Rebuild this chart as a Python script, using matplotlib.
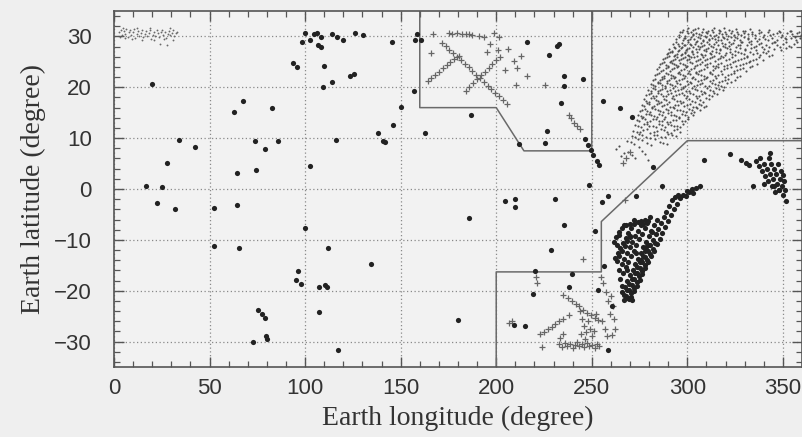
import matplotlib
matplotlib.use("Agg")
import matplotlib.pyplot as plt
from matplotlib.ticker import MultipleLocator

# ---------------- data (longitude, latitude in degrees) ----------------
# isolated and clustered filled events
dot_lon = [20.0, 34.2, 42.5, 27.8, 17.0, 25.2, 22.6, 32.0,
           63.0, 67.4, 82.7, 74.0, 85.6, 79.0, 64.3, 74.5,
           52.3, 64.3, 52.1, 65.5,
           75.4, 77.3, 79.0, 79.5, 72.6, 79.9,
           93.8, 96.0, 99.8, 98.6, 102.4, 104.7, 106.3, 108.5, 106.8, 108.2, 114.1, 116.7, 120.0, 126.0, 130.1, 145.5,
           110.1, 123.3, 125.4, 113.9, 109.2,
           145.8, 138.4, 141.0, 141.6, 116.3, 102.4,
           100.2, 112.2, 134.4, 96.4, 95.3, 97.9, 107.3, 110.3, 111.7, 107.3, 117.0,
           158.3, 157.7, 160.6, 157.1, 150.2, 162.9, 186.7,
           216.1, 227.4, 232.0, 233.0, 235.3, 245.2, 235.6, 233.9, 226.6, 225.4, 211.8,
           246.6, 247.9, 249.5, 250.9, 252.6, 254.0,
           255.7, 264.8, 270.8, 282.1, 287.0, 308.7, 322.2,
           248.8, 258.7, 255.5, 230.9, 209.7, 204.5, 209.8, 273.3,
           185.8, 180.2,
           220.5, 219.1, 209.2, 214.9, 237.9, 239.6, 228.6, 235.6, 251.8, 256.4, 253.5, 258.3, 260.4]
dot_lat = [20.7, 9.7, 8.3, 5.1, 0.5, 0.3, -2.75, -4.0,
           15.2, 17.4, 16.0, 9.4, 9.5, 7.9, 3.1, 3.7,
           -3.7, -3.2, -11.2, -11.6,
           -23.8, -24.6, -25.3, -29.0, -30.0, -29.4,
           24.8, 24.0, 30.7, 29.0, 29.2, 30.4, 30.7, 29.8, 28.4, 27.9, 30.4, 29.8, 29.2, 30.6, 30.2, 29.0,
           24.1, 22.2, 22.6, 21.0, 20.0,
           12.5, 11.0, 9.5, 9.3, 9.6, 4.5,
           -7.6, -11.6, -14.7, -16.2, -17.9, -18.7, -19.2, -18.9, -19.3, -24.1, -31.6,
           30.5, 29.2, 29.2, 19.2, 16.1, 11.0, 14.6,
           28.9, 26.3, 28.1, 28.6, 22.3, 21.6, 20.2, 17.0, 11.5, 9.0, 8.9,
           9.8, 8.7, 7.7, 6.6, 5.6, 4.7,
           17.4, 15.9, 14.2, 4.4, 0.5, 5.7, 6.8,
           0.7, -1.4, -2.5, -2.0, -1.9, -2.3, -3.5, -1.4,
           -5.8, -25.8,
           -16.2, -20.6, -26.7, -27.0, -19.3, -16.7, -11.9, -7.0, -8.3, -15.2, -19.9, -31.6, -23.1]

# dense streaks of filled events south of the equator
band_lon = [270.5, 272.0, 273.5, 275.0, 276.5, 278.0, 279.5, 281.0, 282.5, 284.0, 285.5, 287.0, 288.5,
            290.0, 291.5, 293.0, 294.5, 296.0,
            268.0, 269.4, 270.8, 272.2, 273.6, 275.0, 276.4, 277.8, 279.2, 280.6, 282.0, 283.4, 284.8,
            286.2, 287.6, 289.0, 290.4,
            265.8, 267.2, 268.6, 270.0, 271.4, 272.8, 274.2, 275.6, 277.0, 278.4, 279.8, 281.2, 282.6, 284.0,
            265.0, 266.4, 267.8, 269.2, 270.6, 272.0, 273.4, 274.8, 276.2, 277.6, 279.0, 280.4,
            262.2, 263.6, 265.0, 266.4, 267.8, 269.2, 270.6, 272.0,
            261.5, 262.9, 264.3, 265.7, 267.1,
            268.0, 270.0, 272.0, 274.0, 276.0, 278.0, 279.5,
            292.0, 293.5, 295.0, 296.0, 297.8, 299.5, 301.0, 303.0, 304.7, 306.5, 302.5, 300.0,
            267.0, 269.0, 271.0, 266.0, 268.5, 263.0, 264.5, 270.0, 273.0, 275.5, 278.5, 281.5,
            269.3, 270.7, 272.1, 273.5, 274.9, 276.3, 277.7, 279.1, 280.5, 281.9, 283.3,
            266.9, 268.3, 269.7, 271.1, 272.5, 273.9, 275.3, 276.7, 278.1, 279.5,
            264.3, 265.7, 267.1, 268.5, 269.9, 271.3, 272.7, 274.1, 275.5, 276.9,
            263.0, 264.4, 265.8, 267.2, 268.6, 270.0]
band_lat = [-21.2, -20.1, -19.0, -17.8, -16.7, -15.5, -14.4, -13.2, -12.1, -10.9, -9.8, -8.6, -7.5,
            -6.3, -5.2, -4.0, -2.9, -1.8,
            -21.0, -19.9, -18.8, -17.7, -16.6, -15.5, -14.4, -13.3, -12.2, -11.1, -10.0, -8.9, -7.8,
            -6.7, -5.6, -4.5, -3.4,
            -20.3, -19.2, -18.1, -17.0, -15.9, -14.8, -13.7, -12.6, -11.5, -10.4, -9.3, -8.2, -7.1, -6.0,
            -17.6, -16.5, -15.4, -14.3, -13.2, -12.1, -11.0, -9.9, -8.8, -7.7, -6.6, -5.5,
            -13.6, -12.6, -11.6, -10.6, -9.6, -8.6, -7.6, -6.8,
            -10.5, -9.5, -8.5, -7.6, -7.0,
            -7.0, -6.8, -6.0, -6.4, -6.3, -6.0, -6.2,
            -2.2, -1.6, -1.2, -1.6, -1.1, -1.4, -0.6, -0.8, 0.1, 0.5, 0.0, -0.3,
            -21.8, -21.5, -21.9, -19.0, -16.0, -11.0, -9.0, -9.5, -12.5, -14.0, -11.5, -8.5,
            -21.6, -20.5, -19.4, -18.3, -17.2, -16.1, -15.0, -13.9, -12.8, -11.7, -10.6,
            -20.9, -19.8, -18.7, -17.6, -16.5, -15.4, -14.3, -13.2, -12.1, -11.0,
            -15.9, -14.8, -13.7, -12.6, -11.5, -10.4, -9.3, -8.2, -7.1, -6.9,
            -14.2, -13.2, -12.2, -11.2, -10.2, -9.2]

# filled events near the right edge
east_lon = [328.1, 330.7, 332.5, 334.2, 343.4, 336.0, 337.5, 338.0, 339.0, 340.0, 340.5, 341.5, 342.0,
            342.5, 343.0, 344.0, 344.5, 345.0, 345.5, 346.0, 346.5, 347.0, 347.5, 348.0, 348.5, 349.0,
            349.5, 349.8, 350.5, 351.0, 351.6, 350.0, 340.3, 345.5, 348.1]
east_lat = [5.8, 5.1, 4.8, 0.5, 7.1, 5.5, 4.5, 6.0, 3.5, 5.0, 2.5, 4.0, 1.5,
            6.0, 3.0, 5.0, 0.5, 2.0, 4.0, -0.5, 3.0, 1.0, 5.0, -0.2, 2.0, 3.5,
            0.5, -1.1, 1.5, -0.2, -2.4, 2.8, 0.9, 0.5, -0.1]

# cross-shaped events
plus_lon = [175.2, 177.0, 179.7, 182.3, 184.0, 185.8, 187.5, 191.0, 193.6, 198.8, 201.5, 167.0,
            171.5, 173.6, 175.5, 177.5, 179.5, 181.5, 183.5, 185.5, 187.5, 189.5, 191.5, 193.5,
            195.5, 197.5, 199.5, 201.5, 203.5, 205.5,
            164.1, 166.0, 168.0, 170.0, 172.0, 174.0, 176.0, 178.0, 180.6,
            184.1, 186.0, 188.0, 190.0, 192.0, 194.0, 196.0, 198.0, 200.0, 201.8,
            165.8, 210.1, 213.2, 216.1, 225.7, 209.5, 211.0, 201.0, 204.5, 197.0, 195.0, 206.0,
            237.9, 239.3, 240.8, 242.4, 243.9,
            270.0, 267.8, 266.1, 267.4, 245.3, 254.9, 255.8,
            220.8, 221.3, 206.6, 208.3,
            223.1, 225.0, 227.0, 229.0, 231.0, 233.0, 235.0, 237.9, 223.9,
            235.2, 237.5, 239.5, 241.5, 243.5, 245.5, 247.5, 249.5, 251.5, 253.5, 255.5,
            233.0, 234.5, 236.0, 237.0, 238.5, 240.0, 241.0, 242.5, 243.5, 245.0, 246.0, 247.5,
            248.5, 250.0, 251.5, 252.5, 254.0, 233.5, 235.0,
            244.0, 245.0, 246.0, 247.0, 248.0, 249.0, 250.0, 246.5, 251.0, 252.0, 244.5,
            257.5, 258.5, 260.0, 261.0, 259.5, 261.5, 262.0, 260.5, 257.0, 258.0]
plus_lat = [30.6, 30.5, 30.6, 30.4, 30.5, 30.4, 30.2, 30.0, 29.9, 30.6, 29.8, 30.4,
            28.8, 28.1, 27.4, 26.7, 26.0, 25.3, 24.6, 23.9, 23.2, 22.5, 21.8, 21.1,
            20.3, 19.6, 18.9, 18.2, 17.5, 16.8,
            21.2, 21.8, 22.4, 23.1, 23.8, 24.4, 25.0, 25.6, 26.2,
            19.2, 20.0, 20.8, 21.6, 22.4, 23.1, 23.8, 24.6, 25.3, 26.0,
            26.7, 20.5, 26.2, 22.2, 20.5, 25.1, 23.8, 27.4, 23.4, 28.5, 27.0, 27.5,
            14.6, 13.9, 13.0, 12.3, 11.7,
            7.2, 6.1, 5.2, -2.1, -13.7, -17.4, -18.4,
            -17.3, -18.5, -26.4, -26.0,
            -28.6, -28.1, -27.6, -27.1, -26.6, -26.0, -25.5, -24.7, -31.1,
            -20.8, -21.4, -22.0, -22.6, -23.1, -23.7, -24.3, -24.8, -25.3, -25.7, -26.0,
            -30.5, -31.0, -30.2, -30.8, -30.4, -31.2, -30.6, -30.1, -30.9, -30.5, -31.1, -30.3,
            -30.8, -30.6, -31.2, -30.4, -30.9, -29.2, -28.5,
            -24.0, -25.5, -27.0, -28.2, -26.0, -27.5, -29.0, -29.5, -28.0, -24.5, -28.5,
            -20.3, -22.0, -21.0, -23.0, -24.5, -25.5, -27.5, -28.7, -27.5, -29.0]

# faint small events, western patch near 30N
west_cloud_lon = [2.5, 3.5, 4.2, 5.0, 5.8, 6.5, 7.1, 7.8, 8.5, 9.0, 9.8, 10.5, 11.2, 11.9, 12.6, 13.3,
                  14.0, 14.8, 15.4, 16.1, 16.9, 17.5, 18.2, 18.9, 19.6, 20.3, 21.0, 21.7, 22.4, 23.1,
                  23.8, 24.5, 25.2, 25.9, 26.6, 27.3, 28.0, 28.7, 29.4, 30.1, 30.8, 31.5, 32.2, 33.0,
                  3.0, 6.0, 9.5, 14.5, 20.8, 26.0, 31.0, 24.0, 27.5, 4.5, 12.0, 19.0, 29.5]
west_cloud_lat = [30.8, 31.3, 30.2, 31.0, 30.5, 31.5, 29.9, 30.8, 31.2, 30.3, 30.9, 31.4, 29.6, 30.5, 31.1, 30.1,
                  30.7, 31.3, 29.8, 30.4, 31.0, 30.0, 30.7, 31.2, 29.5, 30.3, 30.9, 30.1, 31.3, 30.6,
                  29.9, 30.8, 31.2, 30.3, 30.9, 29.6, 30.4, 31.0, 30.2, 30.7, 31.2, 30.0, 30.6, 30.9,
                  29.8, 29.6, 29.4, 29.3, 29.2, 29.4, 29.3, 28.6, 28.4, 31.6, 31.7, 31.6, 31.6]

# faint small events, eastern cloud ("lon lat" pairs)
east_cloud = """
297.5 31.3, 300.2 31.6, 303.1 31.2, 305.8 31.7, 308.4 31.4, 311.0 31.1, 313.7 31.6, 316.5 31.3, 319.2 31.7,
322.0 31.2, 325.3 31.5, 328.9 31.1, 333.0 31.4, 337.6 31.2, 342.5 31.3, 348.0 31.1, 354.0 31.0,
295.4 30.3, 297.1 30.8, 298.9 30.1, 300.3 30.6, 301.8 30.9, 303.2 30.2, 304.7 30.7, 306.1 30.4, 307.6 30.9,
309.0 30.1, 310.5 30.6, 312.1 30.3, 313.6 30.8, 315.0 30.2, 316.6 30.7, 318.1 30.4, 319.7 30.9, 321.2 30.1,
322.8 30.6, 324.5 30.3, 326.2 30.8, 328.0 30.2, 329.8 30.6, 331.7 30.4, 333.6 30.9, 335.6 30.2, 337.7 30.6,
339.9 30.3, 342.2 30.8, 344.6 30.4, 347.0 30.7, 349.5 30.2, 352.0 30.6, 354.6 30.4, 357.2 30.7, 359.5 30.3,
294.2 29.4, 295.9 29.8, 297.5 29.2, 299.0 29.7, 300.6 29.3, 302.0 29.9, 303.5 29.5, 305.0 29.1, 306.5 29.6,
308.1 29.3, 309.7 29.8, 311.3 29.2, 312.8 29.6, 314.4 29.4, 316.0 29.9, 317.7 29.2, 319.3 29.7, 321.0 29.4,
322.6 29.8, 324.3 29.2, 326.0 29.6, 327.8 29.3, 329.6 29.9, 331.5 29.5, 333.5 29.1, 335.5 29.7, 337.6 29.4,
339.8 29.8, 342.0 29.2, 344.3 29.6, 346.7 29.3, 349.1 29.8, 351.6 29.4, 354.2 29.7, 356.8 29.2, 359.2 29.6,
292.3 28.5, 294.0 28.9, 295.6 28.2, 297.3 28.7, 298.9 28.4, 300.5 28.9, 302.1 28.3, 303.8 28.6, 305.4 28.1,
307.1 28.8, 308.8 28.4, 310.5 28.9, 312.3 28.2, 314.1 28.6, 316.0 28.3, 317.9 28.8, 319.9 28.5, 322.0 28.1,
324.1 28.7, 326.3 28.4, 328.6 28.9, 331.0 28.3, 333.5 28.6, 336.0 28.2, 338.6 28.8, 341.3 28.4, 344.1 28.7,
347.0 28.3, 350.0 28.6, 353.0 28.2, 356.0 28.5,
290.4 27.6, 292.1 27.2, 293.8 27.8, 295.5 27.4, 297.3 27.9, 299.1 27.3, 300.9 27.7, 302.7 27.1, 304.6 27.5,
306.5 27.9, 308.5 27.4, 310.6 27.8, 312.7 27.2, 314.9 27.6, 317.2 27.3, 319.6 27.9, 322.1 27.5, 324.7 27.1,
327.4 27.7, 330.2 27.3, 333.1 27.8, 336.1 27.4, 339.2 27.9, 342.4 27.2, 345.6 27.6, 348.8 27.3, 351.5 27.8,
289.2 26.5, 291.0 26.9, 292.8 26.2, 294.7 26.6, 296.6 26.3, 298.6 26.8, 300.6 26.4, 302.7 26.9, 304.8 26.1,
307.0 26.6, 309.3 26.3, 311.7 26.8, 314.2 26.2, 316.8 26.7, 319.5 26.4, 322.3 26.9, 325.2 26.3, 328.2 26.7,
331.3 26.2, 334.5 26.6, 337.8 26.3, 341.1 26.8, 344.3 26.4,
287.4 25.5, 289.3 25.9, 291.3 25.2, 293.3 25.6, 295.4 25.3, 297.5 25.8, 299.7 25.4, 302.0 25.9, 304.3 25.1,
306.7 25.6, 309.2 25.3, 311.8 25.8, 314.5 25.2, 317.3 25.7, 320.2 25.4, 323.2 25.9, 326.3 25.3, 329.5 25.7,
332.8 25.2, 336.1 25.6, 339.4 25.3,
285.6 24.5, 287.6 24.9, 289.7 24.2, 291.9 24.7, 294.1 24.3, 296.4 24.8, 298.8 24.4, 301.3 24.9, 303.8 24.1,
306.4 24.6, 309.1 24.3, 311.9 24.8, 314.8 24.2, 317.8 24.7, 320.9 24.4, 324.1 24.9, 327.4 24.3, 330.7 24.7,
334.0 24.2, 336.5 24.6,
284.3 23.6, 286.4 23.2, 288.6 23.8, 290.9 23.3, 293.2 23.7, 295.6 23.1, 298.1 23.6, 300.7 23.3, 303.3 23.8,
306.0 23.2, 308.8 23.6, 311.7 23.1, 314.7 23.7, 317.8 23.3, 321.0 23.8, 324.3 23.2, 327.6 23.6, 330.8 23.3,
332.6 23.9,
283.2 22.4, 285.4 22.8, 287.7 22.2, 290.0 22.6, 292.4 22.3, 294.9 22.9, 297.5 22.4, 300.2 22.8, 302.9 22.1,
305.7 22.6, 308.6 22.3, 311.6 22.8, 314.7 22.2, 317.9 22.7, 321.2 22.4, 324.5 22.9, 327.8 22.3,
282.1 21.5, 284.4 21.1, 286.8 21.7, 289.2 21.3, 291.7 21.8, 294.3 21.2, 297.0 21.6, 299.8 21.3, 302.6 21.9,
305.5 21.2, 308.5 21.6, 311.6 21.3, 314.8 21.8, 318.1 21.2, 321.4 21.7, 324.7 21.4,
281.0 20.6, 283.3 20.2, 285.7 20.8, 288.2 20.3, 290.8 20.7, 293.4 20.2, 296.1 20.6, 298.9 20.3, 301.8 20.9,
304.8 20.4, 307.9 20.8, 311.1 20.2, 314.4 20.7, 317.7 20.3, 320.8 20.8,
279.6 19.5, 282.0 19.9, 284.5 19.2, 287.0 19.7, 289.6 19.3, 292.3 19.8, 295.1 19.4, 297.9 19.9, 300.8 19.2,
303.8 19.6, 306.9 19.3, 310.1 19.8, 313.4 19.2, 316.6 19.7, 318.6 19.4,
278.5 18.4, 280.9 18.8, 283.4 18.2, 286.0 18.7, 288.6 18.3, 291.3 18.9, 294.1 18.4, 297.0 18.8, 300.0 18.2,
303.1 18.6, 306.3 18.3, 309.5 18.8, 312.7 18.2, 315.3 18.6,
277.3 17.6, 279.8 17.2, 282.3 17.8, 284.9 17.3, 287.6 17.7, 290.4 17.2, 293.2 17.6, 296.1 17.3, 299.1 17.9,
302.2 17.4, 305.3 17.8, 308.4 17.2, 311.5 17.6,
276.2 16.5, 278.7 16.9, 281.3 16.2, 283.9 16.7, 286.6 16.3, 289.4 16.8, 292.3 16.2, 295.2 16.6, 298.2 16.3,
301.3 16.8, 304.4 16.2, 307.4 16.6, 309.6 16.3,
275.3 15.4, 277.8 15.8, 280.4 15.2, 283.1 15.7, 285.9 15.3, 288.7 15.8, 291.6 15.2, 294.6 15.6, 297.6 15.3,
300.7 15.8, 303.7 15.2, 306.4 15.6,
274.4 14.6, 277.0 14.2, 279.7 14.7, 282.5 14.3, 285.4 14.8, 288.3 14.2, 291.3 14.6, 294.3 14.3, 297.4 14.8,
300.4 14.2, 303.2 14.6,
273.5 13.5, 276.3 13.9, 279.1 13.2, 282.0 13.7, 285.0 13.3, 288.0 13.8, 291.1 13.2, 294.2 13.6, 297.3 13.3,
300.2 13.8,
272.6 12.6, 275.6 12.2, 278.7 12.7, 281.8 12.3, 285.0 12.8, 288.2 12.2, 291.4 12.6, 294.6 12.3, 297.6 12.8,
271.8 11.5, 275.2 11.2, 278.8 11.7, 282.4 11.3, 286.0 11.8, 289.6 11.2, 293.1 11.6, 296.2 11.3,
270.9 10.4, 274.6 10.8, 278.4 10.2, 282.3 10.7, 286.2 10.3, 290.0 10.8, 294.0 10.4,
268.5 9.5, 272.3 8.9, 276.5 9.6, 281.0 8.6, 285.5 9.3, 289.5 8.8,
262.5 7.8, 265.2 6.5, 269.0 7.3, 272.8 6.1, 276.4 7.5, 279.5 5.8,
296.3 30.9, 298.1 29.6, 299.7 31.0, 301.2 29.5, 302.8 30.4, 304.1 31.4, 305.6 29.8, 307.0 30.3, 308.3 29.1, 309.8 30.8,
311.4 29.5, 312.9 31.2, 314.2 30.0, 315.8 29.2, 317.3 31.0, 318.8 29.9, 320.4 30.5, 321.9 29.0, 323.5 31.1, 325.0 29.8,
326.7 30.4, 328.3 29.0, 330.0 31.0, 331.9 29.7, 333.9 30.5, 336.2 29.1, 338.4 30.9, 340.7 29.5, 343.1 30.2, 345.7 29.0,
348.3 30.9, 351.0 29.6, 353.6 31.0, 356.3 29.9, 358.6 30.9,
293.1 28.0, 294.9 28.6, 296.5 27.7, 298.1 28.3, 299.8 27.6, 301.3 28.6, 303.0 27.9, 304.5 28.9, 306.2 27.6, 307.9 28.2,
309.6 27.5, 311.4 28.5, 313.2 27.9, 315.0 28.9, 316.9 27.6, 318.8 28.2, 320.9 27.8, 323.0 28.5, 325.3 27.9, 327.6 28.3,
330.0 27.6, 332.4 28.9, 334.8 27.9, 337.3 28.5, 339.9 27.6, 342.7 28.0, 345.5 28.9, 348.4 27.9, 351.4 28.9, 354.4 28.0,
357.4 29.0,
290.1 26.7, 291.8 27.0, 293.5 26.4, 295.3 27.1, 297.2 26.6, 299.0 27.0, 301.0 26.2, 303.1 26.6, 305.3 27.0, 307.6 26.3,
309.9 27.1, 312.4 26.5, 315.0 27.0, 317.6 26.1, 320.4 26.8, 323.3 26.5, 326.4 27.0, 329.6 26.5, 332.9 27.0, 336.2 26.7,
339.6 27.0, 342.8 26.1,
288.4 25.7, 290.4 26.1, 292.3 25.4, 294.4 25.9, 296.5 25.5, 298.7 26.0, 301.0 25.6, 303.3 26.0, 305.6 25.4, 308.0 25.9,
310.5 25.5, 313.1 26.0, 315.9 25.5, 318.8 26.0, 321.8 25.6, 324.8 25.1, 327.9 25.5, 331.1 26.0, 334.4 25.4, 337.7 25.9,
286.6 24.7, 288.6 24.3, 290.8 24.9, 293.0 24.5, 295.3 24.1, 297.6 24.6, 300.0 24.2, 302.5 24.7, 305.1 24.4, 307.7 24.9,
310.5 24.5, 313.3 24.1, 316.3 24.5, 319.3 24.1, 322.5 24.6, 325.7 24.1, 329.0 24.5, 332.3 24.9,
285.3 23.9, 287.5 23.4, 289.8 23.9, 292.0 23.5, 294.4 23.9, 296.8 23.4, 299.4 23.9, 302.0 23.5, 304.6 23.1, 307.4 23.4,
310.2 23.9, 313.2 23.4, 316.2 23.9, 319.4 23.5, 322.6 23.9, 325.9 23.4, 329.2 23.8,
284.3 22.6, 286.5 22.1, 288.9 22.8, 291.2 22.4, 293.6 22.1, 296.2 22.6, 298.9 22.2, 301.5 22.6, 304.3 22.9, 307.1 22.4,
310.1 22.1, 313.1 22.6, 316.3 22.4, 319.6 22.1, 322.8 22.7, 326.2 22.1,
283.2 21.7, 285.6 21.4, 288.0 21.9, 290.5 21.4, 293.0 21.9, 295.6 21.4, 298.4 21.8, 301.2 21.1, 304.0 21.7, 307.0 21.4,
310.0 21.9, 313.2 21.4, 316.4 21.1, 319.7 21.5, 323.0 21.1,
282.2 20.4, 284.5 20.8, 287.0 20.4, 289.5 20.9, 292.1 20.4, 294.8 20.8, 297.5 20.1, 300.4 20.6, 303.3 20.2, 306.4 20.6,
309.5 20.3, 312.7 20.9, 316.0 20.5, 319.2 20.1,
280.8 19.3, 283.2 19.7, 285.7 19.4, 288.3 19.9, 291.0 19.5, 293.7 19.2, 296.5 19.6, 299.4 19.3, 302.3 19.8, 305.3 19.4,
308.5 19.1, 311.7 19.5, 315.0 19.9,
279.7 18.6, 282.1 18.3, 284.7 18.8, 287.3 18.2, 290.0 18.6, 292.7 18.2, 295.5 18.6, 298.5 18.4, 301.5 18.9, 304.7 18.2,
307.9 18.6, 311.1 18.4, 314.0 18.9,
278.5 17.4, 281.0 17.9, 283.6 17.5, 286.2 17.1, 289.0 17.5, 291.8 17.9, 294.6 17.4, 297.6 17.1, 300.7 17.6, 303.8 17.2,
306.8 17.5, 310.0 17.9,
277.4 16.4, 280.0 16.7, 282.6 16.4, 285.3 16.9, 288.0 16.5, 290.8 16.1, 293.7 16.5, 296.7 16.9, 299.7 16.5, 302.8 16.1,
305.9 16.7, 308.5 16.1,
276.5 15.6, 279.1 15.3, 281.7 15.9, 284.5 15.5, 287.3 15.1, 290.1 15.5, 293.1 15.9, 296.1 15.5, 299.1 15.1, 302.2 15.5,
305.0 15.9,
275.7 14.4, 278.3 14.8, 281.1 14.5, 284.0 14.1, 286.8 14.5, 289.8 14.9, 292.8 14.5, 295.8 14.1, 298.9 14.5, 301.8 14.9,
274.9 13.3, 277.7 13.7, 280.6 13.4, 283.5 13.8, 286.5 13.4, 289.5 13.1, 292.6 13.5, 295.7 13.9, 298.8 13.4,
274.1 12.3, 277.1 12.8, 280.2 12.4, 283.4 12.1, 286.6 12.5, 289.8 12.8, 293.0 12.4, 296.1 12.1,
273.5 11.3, 277.0 11.6, 280.6 11.1, 284.2 11.5, 287.8 11.6, 291.3 11.1, 294.7 11.8,
272.7 10.2, 276.5 10.6, 280.4 10.1, 284.2 10.6, 288.1 10.2, 292.0 10.6,
270.4 9.2, 274.4 9.8, 278.7 9.1, 283.2 9.8, 287.5 9.1,
264.0 8.4, 267.1 7.0, 270.9 6.6, 274.6 8.2, 278.0 6.8
"""
_pairs = [p.split() for p in east_cloud.replace("\n", " ").split(",") if p.strip()]
east_cloud_lon = [float(a) for a, b in _pairs]
east_cloud_lat = [float(b) for a, b in _pairs]

# region boundaries
north_box_lon = [160, 160, 200, 214.5, 250, 250]
north_box_lat = [35, 16, 16, 7.5, 7.5, 35]
south_box_lon = [200, 200, 255, 255, 300, 360]
south_box_lat = [-35, -16.3, -16.3, -6.4, 9.5, 9.5]

xticks = [0, 50, 100, 150, 200, 250, 300, 350]
yticks = [-30, -20, -10, 0, 10, 20, 30]

# ---------------- figure ----------------
bg = "#efefef"
fig = plt.figure(figsize=(8.03, 4.37), dpi=100, facecolor=bg)
ax = fig.add_axes([114 / 803, 70 / 437, 688 / 803, 356 / 437], facecolor="#f2f2f2")

ax.set_xlim(0, 360)
ax.set_ylim(-35, 35)

ax.grid(True, which="major", linestyle=(0, (1, 2)), color="#8a8a8a", linewidth=0.9)
ax.set_axisbelow(True)

ax.plot(north_box_lon, north_box_lat, color="#6a6a6a", lw=1.1, zorder=2)
ax.plot(south_box_lon, south_box_lat, color="#6a6a6a", lw=1.1, zorder=2)

ax.scatter(west_cloud_lon, west_cloud_lat, s=1.8, c="#6a6a6a", linewidths=0, zorder=3)
ax.scatter(east_cloud_lon, east_cloud_lat, s=2.4, c="#4d4d4d", linewidths=0, zorder=3)

ax.scatter(plus_lon, plus_lat, marker="+", s=16, c="#666666", linewidths=0.9, zorder=4)

ax.scatter(dot_lon, dot_lat, s=14, c="#222222", linewidths=0, zorder=5)
ax.scatter(band_lon, band_lat, s=14, c="#222222", linewidths=0, zorder=5)
ax.scatter(east_lon, east_lat, s=14, c="#222222", linewidths=0, zorder=5)

ax.xaxis.set_minor_locator(MultipleLocator(10))
ax.yaxis.set_minor_locator(MultipleLocator(2))
ax.set_xticks(xticks)
ax.set_yticks(yticks)

ax.tick_params(which="both", direction="in", top=True, right=True, colors="#555555",
               labelcolor="#333333")
ax.tick_params(which="major", length=7, width=1.0)
ax.tick_params(which="minor", length=4, width=0.9)
ax.tick_params(axis="x", which="major", pad=8, labelsize=16)
ax.tick_params(axis="y", which="major", pad=16, labelsize=16)
for lab in ax.get_xticklabels() + ax.get_yticklabels():
    lab.set_fontfamily("Liberation Sans")

for sp in ax.spines.values():
    sp.set_color("#555555")
    sp.set_linewidth(1.2)

ax.set_xlabel("Earth longitude (degree)", fontfamily="Liberation Serif", fontsize=20,
              color="#333333", labelpad=5)
ax.set_ylabel("Earth latitude (degree)", fontfamily="Liberation Serif", fontsize=20,
              color="#333333", labelpad=6)

fig.savefig("out.png", dpi=100, facecolor=bg)
